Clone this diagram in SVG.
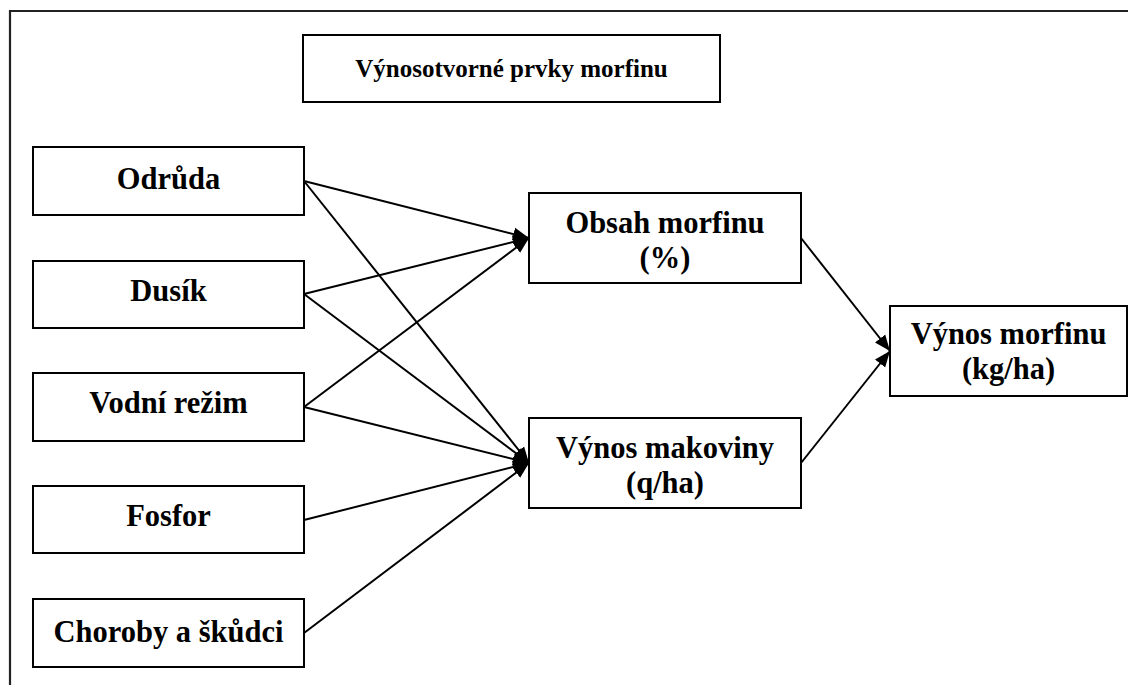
<svg xmlns="http://www.w3.org/2000/svg" width="1128" height="685" viewBox="0 0 1128 685">
<style>
.box{fill:#fff;stroke:#000;stroke-width:2}
.t{font-family:"Liberation Serif","Times New Roman",serif;font-weight:bold;font-size:30.5px;fill:#000;text-anchor:middle}
.tt{font-size:25px}
.c{stroke:#000;stroke-width:2;fill:none;marker-end:url(#arr)}
</style>
<defs>
<marker id="arr" markerUnits="userSpaceOnUse" markerWidth="16" markerHeight="14" viewBox="0 0 16 14" refX="16" refY="7" orient="auto">
<path d="M0,0.5 L16,7 L0,13.5 Z" fill="#000"/>
</marker>
</defs>
<rect width="1128" height="685" fill="#fff"/>
<g id="frame">
<path d="M10,685 L10,11 L1128,11" fill="none" stroke="#222" stroke-width="2.2"/>
</g>
<g id="title"><rect class="box" x="303" y="35" width="417" height="67"/><text class="t tt" x="511.5" y="77">Výnosotvorné prvky morfinu</text></g>
<g id="odruda"><rect class="box" x="33" y="147" width="271" height="68"/><text class="t" x="168.5" y="189">Odrůda</text></g>
<g id="dusik"><rect class="box" x="33" y="261" width="271" height="67"/><text class="t" x="168.5" y="301">Dusík</text></g>
<g id="vodni"><rect class="box" x="33" y="373" width="271" height="68"/><text class="t" x="168.5" y="413">Vodní režim</text></g>
<g id="fosfor"><rect class="box" x="33" y="486" width="271" height="67"/><text class="t" x="168.5" y="526">Fosfor</text></g>
<g id="choroby"><rect class="box" x="33" y="599" width="271" height="68"/><text class="t" x="168.5" y="642">Choroby a škůdci</text></g>
<g id="obsah"><rect class="box" x="529" y="193" width="272" height="90"/><text class="t" x="665" y="233">Obsah morfinu</text><text class="t" x="665" y="268">(%)</text></g>
<g id="makovina"><rect class="box" x="529" y="418" width="272" height="90"/><text class="t" x="665" y="458">Výnos makoviny</text><text class="t" x="665" y="493">(q/ha)</text></g>
<g id="vynos"><rect class="box" x="890" y="306" width="237" height="90"/><text class="t" x="1008.5" y="344">Výnos morfinu</text><text class="t" x="1008.5" y="379">(kg/ha)</text></g>
<g id="connectors">
<line class="c" x1="304" y1="181" x2="529" y2="238"/>
<line class="c" x1="304" y1="181" x2="529" y2="463"/>
<line class="c" x1="304" y1="294" x2="529" y2="238"/>
<line class="c" x1="304" y1="294" x2="529" y2="463"/>
<line class="c" x1="304" y1="407" x2="529" y2="238"/>
<line class="c" x1="304" y1="407" x2="529" y2="463"/>
<line class="c" x1="304" y1="520" x2="529" y2="463"/>
<line class="c" x1="304" y1="633" x2="529" y2="463"/>
<line class="c" x1="801" y1="238" x2="890" y2="351"/>
<line class="c" x1="801" y1="463" x2="890" y2="351"/>
</g>
</svg>
